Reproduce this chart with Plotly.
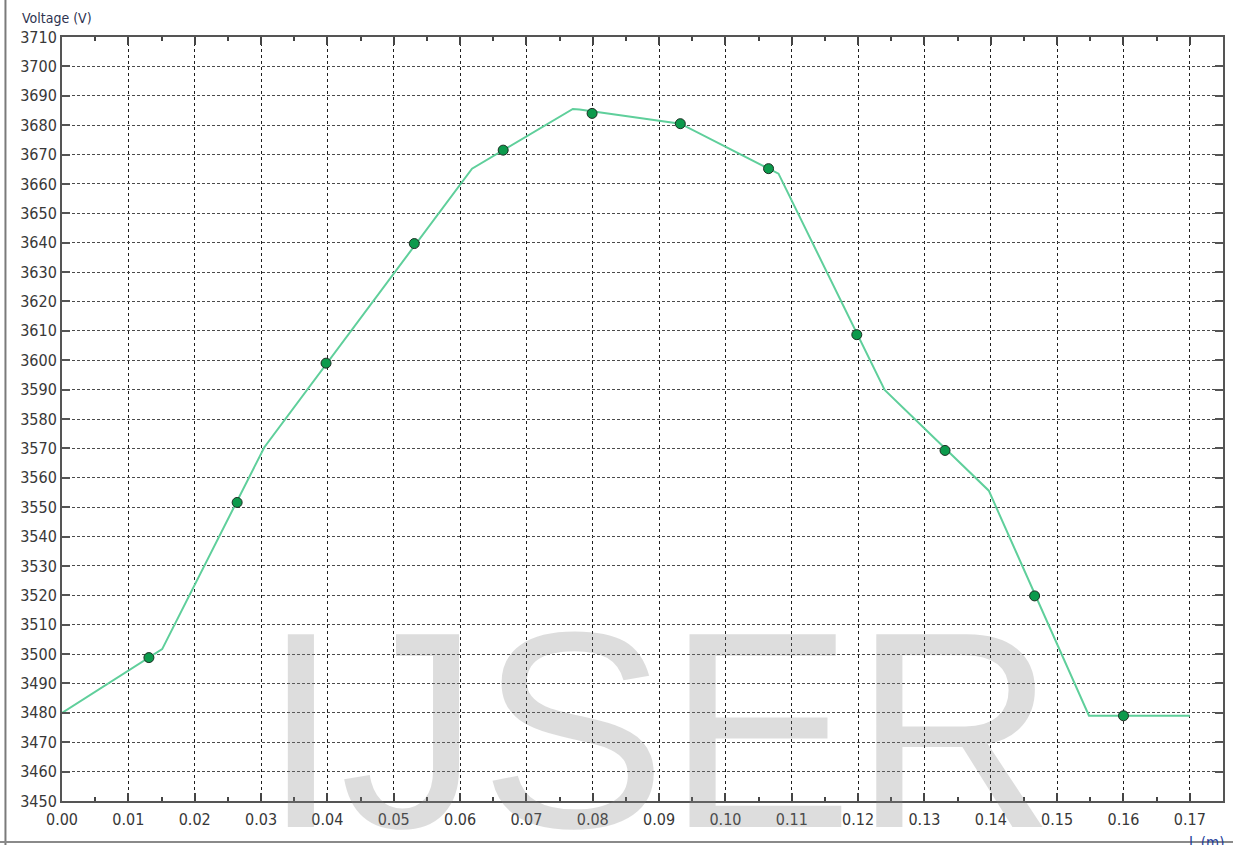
import plotly.graph_objects as go

# Curve vertices (L in m, Voltage in V)
line_L = [0.0, 0.0151, 0.0305, 0.0618, 0.0770, 0.0780, 0.0932, 0.1080, 0.1240, 0.1397, 0.1548, 0.1700]
line_V = [3480.0, 3501.7, 3570.4, 3665.2, 3685.5, 3685.3, 3680.5, 3663.5, 3589.9, 3555.6, 3479.0, 3479.0]

# Marker points
mark_L = [0.0131, 0.0264, 0.0398, 0.0531, 0.0665, 0.0799, 0.0932, 0.1065, 0.1198, 0.1331, 0.1466, 0.1600]
mark_V = [3498.8, 3551.6, 3599.0, 3639.7, 3671.5, 3684.0, 3680.5, 3665.2, 3608.7, 3569.3, 3519.8, 3479.0]

x_ticks = [round(0.01 * i, 2) for i in range(18)]
x_tick_text = ["%.2f" % v for v in x_ticks]
y_ticks = list(range(3450, 3711, 10))

FONT = "Liberation Sans Narrow, Arial Narrow, DejaVu Sans Condensed, Liberation Sans, Arial, sans-serif"

fig = go.Figure()
fig.add_trace(go.Scatter(
    x=line_L, y=line_V, mode="lines",
    line=dict(color="#5fcf9b", width=2),
    hoverinfo="skip", showlegend=False))
fig.add_trace(go.Scatter(
    x=mark_L, y=mark_V, mode="markers",
    marker=dict(size=10, color="#0c9a4c", line=dict(color="#1d2f24", width=1)),
    showlegend=False))

fig.update_layout(
    width=1233, height=845,
    margin=dict(l=62, r=8, t=37, b=44),
    paper_bgcolor="white", plot_bgcolor="white",
    font=dict(family=FONT, size=16, color="#383838"),
    showlegend=False,
    xaxis=dict(
        range=[0, 0.175], tickmode="array", tickvals=x_ticks, ticktext=x_tick_text,
        ticks="inside", ticklen=8, tickwidth=1.5, tickcolor="#444",
        showline=True, linecolor="#555", linewidth=2, mirror="ticks",
        showgrid=True, gridcolor="#1e1e1e", gridwidth=1, griddash="3px,3px",
        zeroline=False, ticklabelstandoff=3,
        minor=dict(dtick=0.005, tick0=0, ticks="inside", ticklen=4, tickwidth=1.5,
                   tickcolor="#444", showgrid=False),
        tickfont=dict(family=FONT, size=16, color="#383838"),
    ),
    yaxis=dict(
        range=[3450, 3710], tickmode="array", tickvals=y_ticks,
        ticks="inside", ticklen=8, tickwidth=2, tickcolor="#555",
        showline=True, linecolor="#555", linewidth=2, mirror="ticks",
        showgrid=True, gridcolor="#4a4a4a", gridwidth=1.4, griddash="3px,2px",
        zeroline=False,
        tickfont=dict(family=FONT, size=16, color="#383838"),
    ),
    annotations=[
        dict(text="IJSER", xref="paper", yref="paper", x=0.514, y=0.093,
             xanchor="center", yanchor="middle", showarrow=False,
             font=dict(family="Liberation Sans, Arial, sans-serif", size=280,
                       color="rgba(128,128,128,0.27)")),
        dict(text="Voltage (V)", xref="paper", yref="paper", x=-0.0361, y=1.0249,
             xanchor="left", yanchor="middle", showarrow=False,
             font=dict(family=FONT, size=14, color="#2e3350")),
        dict(text="L (m)", xref="paper", yref="paper", x=1.0026, y=-0.040,
             xanchor="right", yanchor="top", showarrow=False,
             font=dict(family=FONT, size=15, color="#24409a")),
    ],
    shapes=[
        dict(type="line", xref="paper", yref="paper", x0=-0.0487, x1=-0.0487, y0=-0.06, y1=1.06,
             line=dict(color="#7a7a7a", width=2)),
        dict(type="line", xref="paper", yref="paper", x0=-0.06, x1=1.01, y0=-0.0537, y1=-0.0537,
             line=dict(color="#8a8a8a", width=2)),
    ],
)

fig.write_html("out.html")
